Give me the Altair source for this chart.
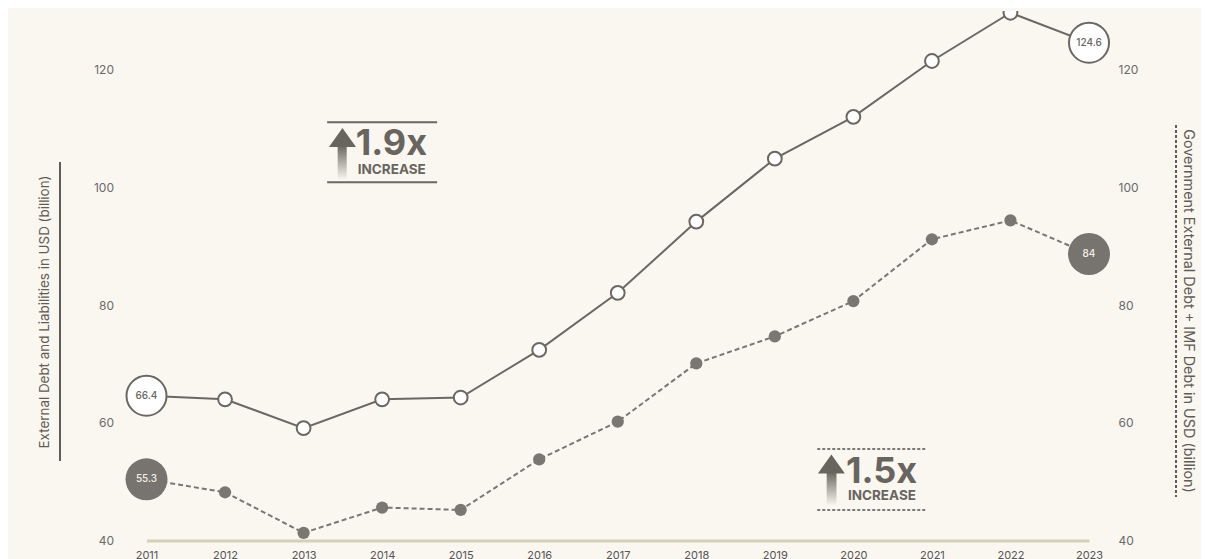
import altair as alt
import pandas as pd

# ---------------- data ----------------
years = list(range(2011, 2024))
external_debt = [64.6, 64.0, 59.1, 64.0, 64.3, 72.4, 82.1, 94.2, 104.9, 112.0, 121.5, 129.7, 124.6]
government_debt = [50.4, 48.2, 41.3, 45.6, 45.2, 53.8, 60.2, 70.1, 74.7, 80.7, 91.2, 94.4, 88.7]

end_years = [2011, 2023]
external_end_labels = ["66.4", "124.6"]
government_end_labels = ["55.3", "84"]

y_ticks = [40, 60, 80, 100, 120]

left_title = "External Debt and Liabilities in USD (billion)"
right_title = "Government External Debt + IMF Debt in USD (billion)"

# annotation boxes (in data units: year / value)
ann1 = {"x0": 2013.30, "x1": 2014.70, "ytop": 111.1, "ybot": 100.9,
        "head_x": 2013.495, "head_y": 108.5, "shaft_x0": 2013.434, "shaft_x1": 2013.549,
        "shaft_top": 107.2, "shaft_bot": 101.3,
        "text_x": 2013.69, "big_y": 105.5, "small_y": 102.3, "big": "1.9x"}
ann2 = {"x0": 2019.54, "x1": 2020.93, "ytop": 55.55, "ybot": 45.18,
        "head_x": 2019.72, "head_y": 53.0, "shaft_x0": 2019.66, "shaft_x1": 2019.785,
        "shaft_top": 51.7, "shaft_bot": 45.9,
        "text_x": 2019.93, "big_y": 49.8, "small_y": 46.8, "big": "1.5x"}

# ---------------- style ----------------
BG = "#faf6f0"
LINE = "#6b6863"
DOT = "#7a7772"
TXT = "#68655f"
AXIS_TXT = "#6a6a6a"
FONT = "Inter"

W, H = 942.5, 529.5

df_ext = pd.DataFrame({"year": years, "value": external_debt})
df_gov = pd.DataFrame({"year": years, "value": government_debt})
df_ext_end = pd.DataFrame({"year": end_years,
                           "value": [external_debt[0], external_debt[-1]],
                           "label": external_end_labels})
df_gov_end = pd.DataFrame({"year": end_years,
                           "value": [government_debt[0], government_debt[-1]],
                           "label": government_end_labels})

xscale = alt.Scale(domain=[2011, 2023], nice=False, zero=False)
yscale = alt.Scale(domain=[40, 130], nice=False, zero=False)

XAXIS = alt.Axis(values=years, format="d", grid=False, ticks=False,
                 domain=True, domainColor="#d6d1b6", domainWidth=3,
                 labelFlush=False, labelPadding=9, labelFontSize=11,
                 labelColor="#555555", labelFont=FONT, labelOverlap=False)


def Xf(field):
    return alt.X(field, scale=xscale, title=None, axis=XAXIS)


Y_left = alt.Y("value:Q", scale=yscale, title=None,
               axis=alt.Axis(orient="left", values=y_ticks, grid=False, ticks=False,
                             tickSize=0, domain=False, labelPadding=33,
                             labelFontSize=12, labelColor=AXIS_TXT, labelFont=FONT))
Y_right = alt.Y("value:Q", scale=yscale, title=None,
                axis=alt.Axis(orient="right", values=y_ticks, grid=False, ticks=False,
                              tickSize=0, domain=False, labelPadding=29,
                              labelFontSize=12, labelColor=AXIS_TXT, labelFont=FONT))


def Yf(field):
    return alt.Y(field, scale=yscale, axis=None)


X = Xf("year:Q")
Y = Yf("value:Q")

# ---------------- main (external debt) ----------------
ext_line = alt.Chart(df_ext).mark_line(color=LINE, strokeWidth=2, clip=True).encode(
    x=X, y=Y_left)
ext_pts = alt.Chart(df_ext[1:-1]).mark_point(
    shape="circle", filled=True, fill="white", stroke=LINE, strokeWidth=2,
    size=190, opacity=1, clip=True).encode(x=X, y=Y)
ext_end = alt.Chart(df_ext_end).mark_point(
    shape="circle", filled=True, fill="white", stroke=LINE, strokeWidth=2,
    size=1600, opacity=1).encode(x=X, y=Y)
ext_end_txt = alt.Chart(df_ext_end).mark_text(
    font=FONT, fontSize=10, fontWeight=500, color=TXT).encode(x=X, y=Y, text="label:N")

# ---------------- dashed (government debt) ----------------
gov_line = alt.Chart(df_gov).mark_line(color=DOT, strokeWidth=2, strokeDash=[5, 3],
                                       clip=True).encode(x=X, y=Y_right)
gov_pts = alt.Chart(df_gov[1:-1]).mark_point(
    shape="circle", filled=True, color=DOT, size=150, opacity=1, clip=True).encode(x=X, y=Y)
gov_end = alt.Chart(df_gov_end).mark_point(
    shape="circle", filled=True, color="#77746f", size=1764, opacity=1).encode(x=X, y=Y)
gov_end_txt = alt.Chart(df_gov_end).mark_text(
    font=FONT, fontSize=10, fontWeight=500, color="#f3f0ea").encode(x=X, y=Y, text="label:N")


# ---------------- annotations ----------------
def annotation(a, dashed):
    rules_df = pd.DataFrame({"x0": [a["x0"], a["x0"]], "x1": [a["x1"], a["x1"]],
                             "y": [a["ytop"], a["ybot"]]})
    rule_kw = dict(color="#7c7974" if dashed else LINE, strokeWidth=2)
    if dashed:
        rule_kw["strokeDash"] = [3, 2]
    rules = alt.Chart(rules_df).mark_rule(**rule_kw).encode(
        x=Xf("x0:Q"), x2="x1:Q", y=Yf("y:Q"))
    head = alt.Chart(pd.DataFrame({"x": [a["head_x"]], "y": [a["head_y"]]})).mark_point(
        shape="M-1,0.7L0,-0.7L1,0.7Z", filled=True, color=TXT, size=729, opacity=1).encode(
        x=Xf("x:Q"), y=Yf("y:Q"))
    shaft = alt.Chart(pd.DataFrame({"x0": [a["shaft_x0"]], "x1": [a["shaft_x1"]],
                                    "y0": [a["shaft_top"]], "y1": [a["shaft_bot"]]})).mark_rect(
        fill=alt.Gradient(gradient="linear",
                          stops=[alt.GradientStop(color=TXT, offset=0),
                                 alt.GradientStop(color=BG, offset=1)],
                          x1=0, x2=0, y1=0, y2=1)).encode(
        x=Xf("x0:Q"), x2="x1:Q", y=Yf("y0:Q"), y2="y1:Q")
    big = alt.Chart(pd.DataFrame({"x": [a["text_x"]], "y": [a["big_y"]], "t": [a["big"]]})).mark_text(
        font=FONT, fontSize=36, fontWeight="bold", color=TXT, align="left",
        baseline="alphabetic", dx=-2).encode(x=Xf("x:Q"), y=Yf("y:Q"), text="t:N")
    small = alt.Chart(pd.DataFrame({"x": [a["text_x"]], "y": [a["small_y"]], "t": ["INCREASE"]})).mark_text(
        font=FONT, fontSize=13.5, fontWeight="bold", color=TXT, align="left",
        baseline="alphabetic").encode(x=Xf("x:Q"), y=Yf("y:Q"), text="t:N")
    return [rules, shaft, head, big, small]


# ---------------- side titles ----------------
lt = alt.Chart(pd.DataFrame({"t": [left_title]})).mark_text(
    font=FONT, fontSize=13.4, color="#5f5c57", angle=270).encode(
    text="t:N", x=alt.value(-101.5), y=alt.value(301))
lt_line = alt.Chart(pd.DataFrame({"t": [0]})).mark_rule(color="#5f5c57", strokeWidth=2).encode(
    x=alt.value(-86.5), y=alt.value(151), y2=alt.value(450))
rt = alt.Chart(pd.DataFrame({"t": [right_title]})).mark_text(
    font=FONT, fontSize=14.4, color="#5f5c57", angle=90).encode(
    text="t:N", x=alt.value(1041.5), y=alt.value(300))
rt_line = alt.Chart(pd.DataFrame({"t": [0]})).mark_rule(
    color="#5f5c57", strokeWidth=2, strokeDash=[3, 2]).encode(
    x=alt.value(1029.5), y=alt.value(114), y2=alt.value(486))

layers = ([ext_line, gov_line] + annotation(ann1, False) + annotation(ann2, True) +
          [ext_pts, ext_end, ext_end_txt, gov_pts, gov_end, gov_end_txt,
           lt, lt_line, rt, rt_line])

chart = alt.layer(*layers).resolve_scale(y="independent").properties(
    width=W, height=H,
    autosize=alt.AutoSizeParams(type="none"),
    padding={"left": 138.5, "top": 3, "right": 112, "bottom": 18.5},
    background=BG,
).configure_view(stroke=None)

chart.save("out.html", embed_options={"renderer": "svg", "actions": False})
